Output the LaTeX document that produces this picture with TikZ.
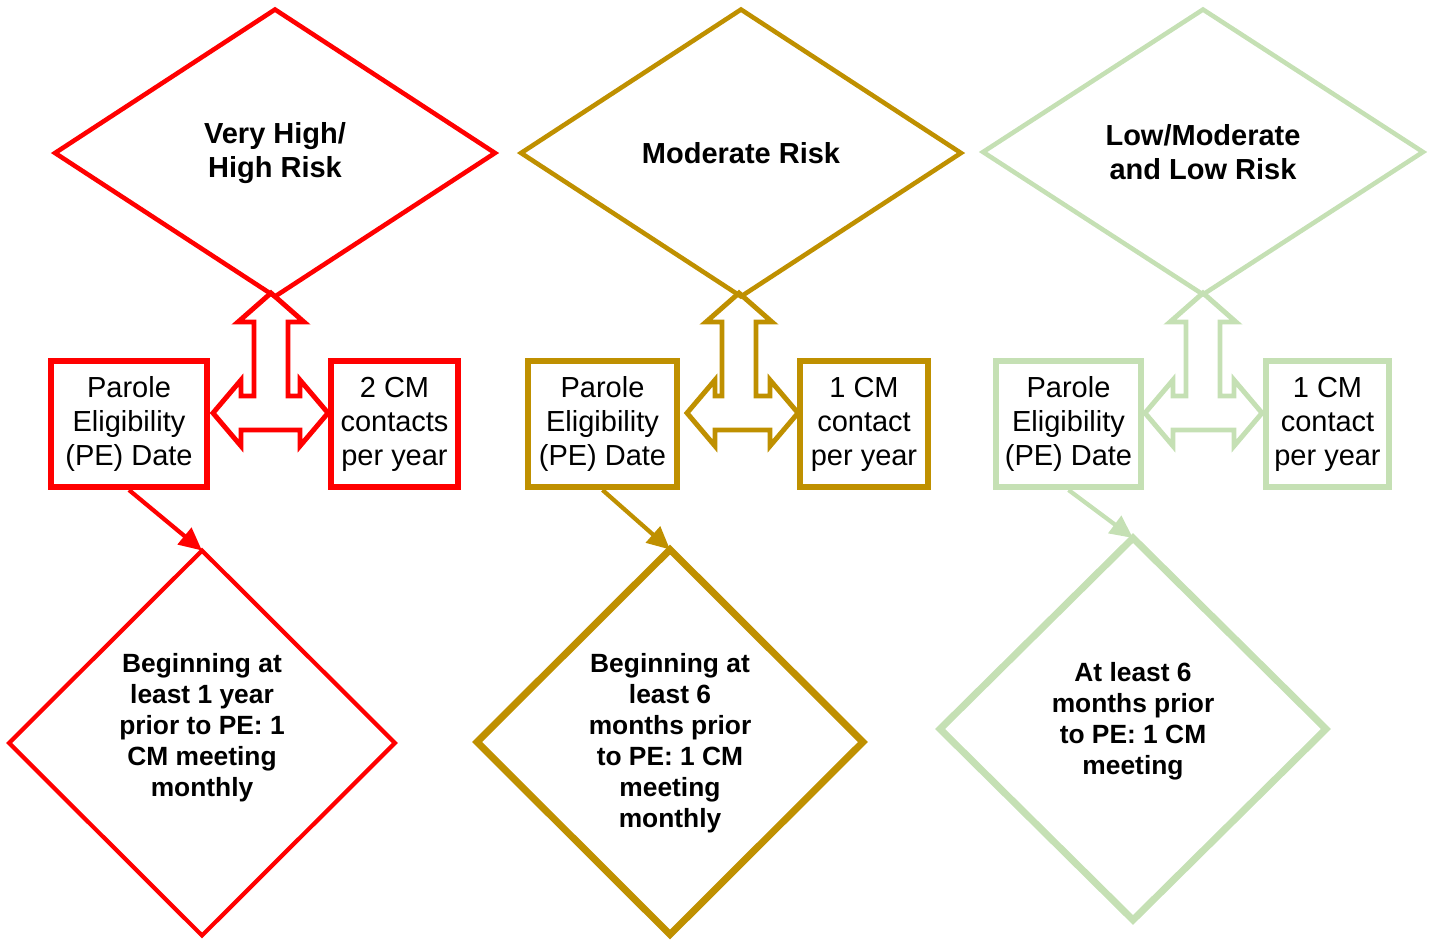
\documentclass[tikz,border=0pt]{standalone}
\usepackage{fontspec}
\setmainfont{Liberation Sans}
\usepackage{tikz}
\usetikzlibrary{positioning}
\usetikzlibrary{arrows.meta, shapes.geometric}
\definecolor{riskred}{HTML}{FF0000}
\definecolor{riskgold}{HTML}{BF9000}
\definecolor{riskgreen}{HTML}{C5E0B4}

\begin{document}
\begin{tikzpicture}[x=0.02cm, y=-0.02cm,
	risk level/.style={draw=#1, line width=2.6pt, diamond, inner sep=0pt, outer sep=0pt,
	minimum width=8.8cm, minimum height=5.74cm, align=center,
	font=\bfseries\fontsize{16.5}{19.4}\selectfont},
	meeting/.style={draw=#1, line width=4pt, diamond, inner sep=0pt, outer sep=0pt,
	minimum width=7.72cm, minimum height=7.7cm},
	meeting text/.style={align=center, font=\bfseries\fontsize{15}{17.6}\selectfont},
	info box/.style={draw=#1, line width=3.4pt, rectangle, inner sep=0pt, align=center,
	minimum height=2.52cm, font=\fontsize{16.5}{19.4}\selectfont},
	arr/.style={-{Triangle[length=13pt, width=12pt]}, line width=2.4pt, draw=#1},
	pics/hub arrow/.style args={#1/#2}{code={
		\draw (0,-120) -- (33,-91) -- (17,-91) -- (17,-17) -- ({#2-28},-17) -- ({#2-28},-33)
		-- (#2,0) -- ({#2-28},33) -- ({#2-28},17) -- ({-#1+28},17) -- ({-#1+28},33)
		-- (-#1,0) -- ({-#1+28},-33) -- ({-#1+28},-17) -- (-17,-17) -- (-17,-91)
		-- (-33,-91) -- cycle;
	}}]

	\useasboundingbox (0,0) rectangle (1436,940);

	% top diamonds
	\node [risk level=riskred] (high) at (275,153) {Very High/\\High Risk};
	\node [risk level=riskgold] (moderate) at (741,153) {Moderate Risk};
	\node [risk level=riskgreen, minimum height=5.7cm] (low) at (1203,152) {Low/Moderate\\and Low Risk};

	% boxes
	\node [info box=riskred, minimum width=3.12cm] (pe1) at (129,424) {Parole\\Eligibility\\(PE) Date};
	\node [info box=riskred, minimum width=2.54cm] (cm1) at (394.5,424) {2 CM\\contacts\\per year};
	\node [info box=riskgold, minimum width=2.98cm] (pe2) at (602.5,424) {Parole\\Eligibility\\(PE) Date};
	\node [info box=riskgold, minimum width=2.56cm] (cm2) at (864,424) {1 CM\\contact\\per year};
	\node [info box=riskgreen, minimum width=2.9cm] (pe3) at (1068.5,424) {Parole\\Eligibility\\(PE) Date};
	\node [info box=riskgreen, minimum width=2.46cm] (cm3) at (1327.5,424) {1 CM\\contact\\per year};

	% hub arrows
	\pic [draw=riskred, line width=2.8pt] at (271,413) {hub arrow=58/57};
	\pic [draw=riskgold, line width=2.8pt] at (739,413) {hub arrow=52/59};
	\pic [draw=riskgreen, line width=2.8pt] at (1203,413) {hub arrow=58/59};

	% bottom diamonds
	\node [meeting=riskred, line width=2.4pt] (meet1) at (202,743) {};
	\node [meeting=riskgold] (meet2) at (670,742) {};
	\node [meeting=riskgreen, minimum height=7.64cm] (meet3) at (1133,729) {};
	\node [meeting text] (txt1) at (202,728) {Beginning at\\least 1 year\\prior to PE: 1\\CM meeting\\monthly};
	\node [meeting text] (txt2) at (670,743) {Beginning at\\least 6\\months prior\\to PE: 1 CM\\meeting\\monthly};
	\node [meeting text] (txt3) at (1133,721) {At least 6\\months prior\\to PE: 1 CM\\meeting};

	\draw [arr=riskred] (pe1.south) -- (meet1.north);
	\draw [arr=riskgold] (pe2.south) -- (meet2.north);
	\draw [arr=riskgreen] (pe3.south) -- (meet3.north);
\end{tikzpicture}
\end{document}
